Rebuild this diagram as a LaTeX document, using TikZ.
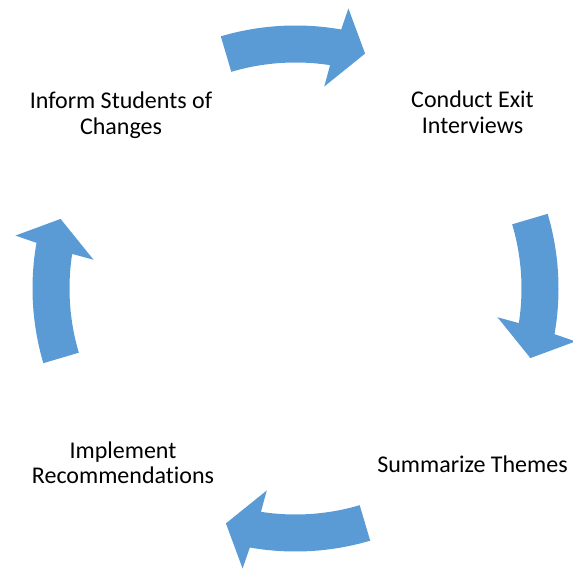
\documentclass[tikz,border=0pt]{standalone}
\usepackage{fontspec}
\setmainfont{Carlito}[Ligatures=NoCommon]
\usepackage{tikz}

\definecolor{cycleblue}{RGB}{91,155,213}

\begin{document}
\begin{tikzpicture}[x=1pt, y=1pt,
	cyclearrow/.style={fill=cycleblue, draw=none},
	step label/.style={align=center, inner sep=0pt,
		font={\fontsize{24}{25.5}\selectfont}}]
\useasboundingbox (0,0) rectangle (573,571);

\node[step label] (conduct) at (472.5,458.5) {Conduct Exit\\Interviews};
\node[step label, anchor=base] (summarize) at (472.5,99) {Summarize Themes};
\node[step label] (implement) at (123,108) {Implement\\Recommendations};
\node[step label] (inform) at (121,456) {Inform Students of\\Changes};

\begin{scope}[shift={(295.5,282.5)}]
% top
\fill[cyclearrow] (106.5:263) arc[start angle=106.5, end angle=80, radius=263pt]
	-- (79.3:285) -- (73.5:245) -- (81.9:204) -- (81.2:226)
	arc[start angle=81.2, end angle=106.5, radius=226pt] -- cycle;
% right
\fill[cyclearrow] (16.5:263) arc[start angle=16.5, end angle=-10, radius=263pt]
	-- (-10.7:285) -- (-16.5:245) -- (-8.1:204) -- (-8.8:226)
	arc[start angle=-8.8, end angle=16.5, radius=226pt] -- cycle;
% bottom
\fill[cyclearrow] (-73.5:263) arc[start angle=-73.5, end angle=-100, radius=263pt]
	-- (-100.7:285) -- (-106.5:245) -- (-98.1:204) -- (-98.8:226)
	arc[start angle=-98.8, end angle=-73.5, radius=226pt] -- cycle;
% left
\fill[cyclearrow] (196.5:263) arc[start angle=196.5, end angle=170, radius=263pt]
	-- (169.3:285) -- (163.5:245) -- (171.9:204) -- (171.2:226)
	arc[start angle=171.2, end angle=196.5, radius=226pt] -- cycle;
\end{scope}
\end{tikzpicture}
\end{document}
